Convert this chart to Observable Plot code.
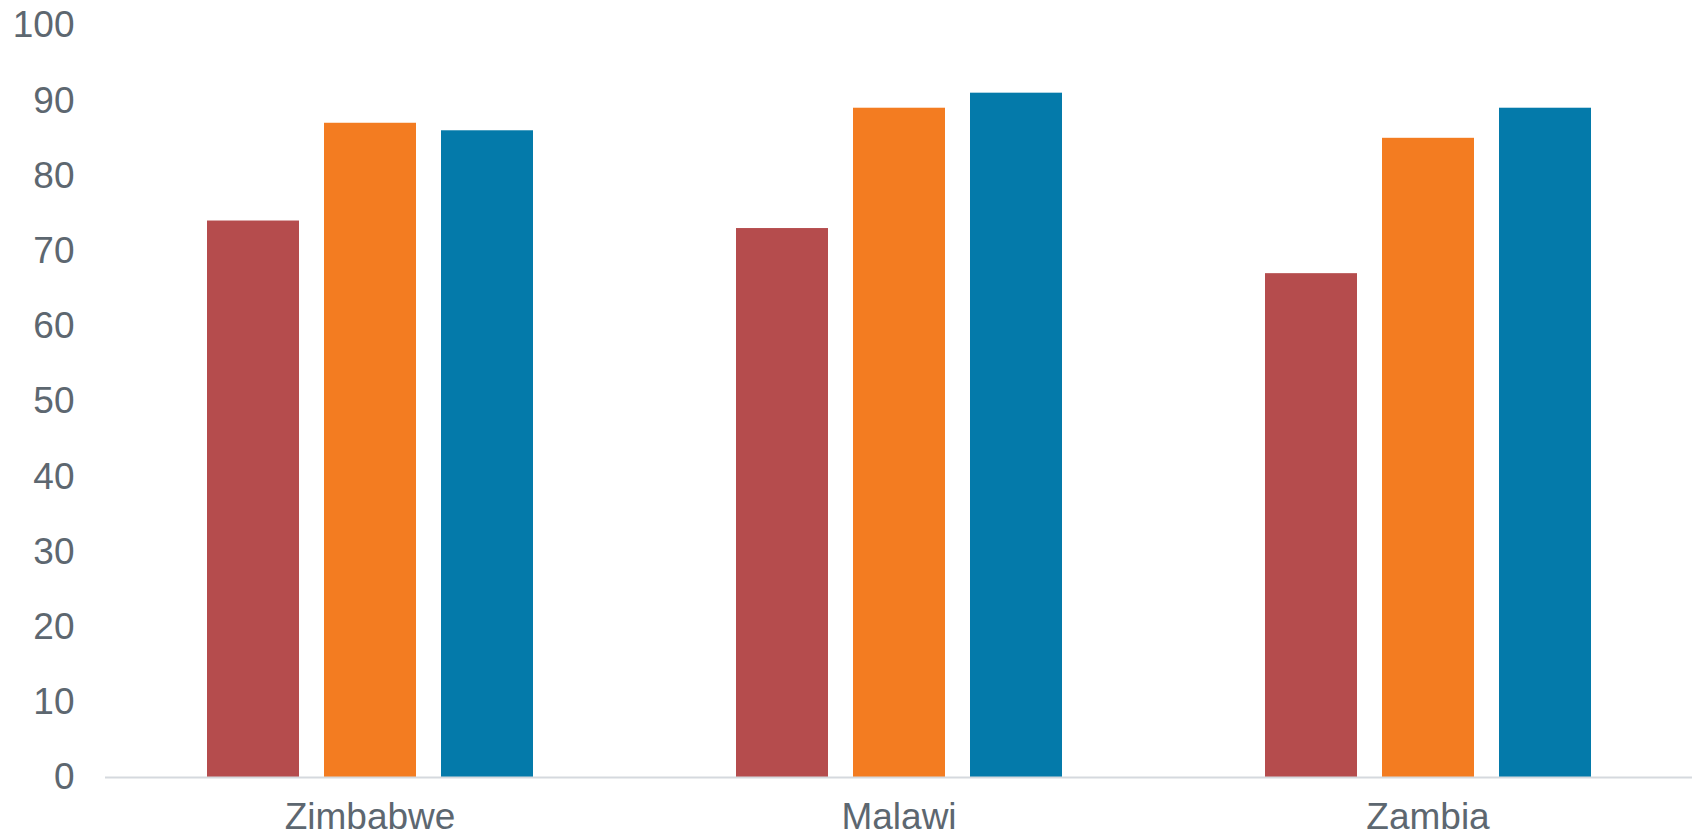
<!DOCTYPE html>
<html>
<head>
<meta charset="utf-8">
<script src="https://cdn.jsdelivr.net/npm/d3@7"></script>
<script src="https://cdn.jsdelivr.net/npm/@observablehq/plot@0.6"></script>
<style>
  html, body { margin: 0; padding: 0; background: #ffffff; }
  #chart svg { display: block; }
</style>
</head>
<body>
<div id="chart"></div>
<script>
// Data
const countries = ["Zimbabwe", "Malawi", "Zambia"];
const seriesNames = ["Series 1", "Series 2", "Series 3"];
const series1 = [74, 73, 67];
const series2 = [87, 89, 85];
const series3 = [86, 91, 89];
const seriesColors = ["#b54c4d", "#f37c21", "#047aaa"];
const yTicks = [0, 10, 20, 30, 40, 50, 60, 70, 80, 90, 100];

const allSeries = [series1, series2, series3];
const rows = [];
countries.forEach((c, i) => {
  seriesNames.forEach((s, j) => {
    rows.push({country: c, series: s, value: allSeries[j][i]});
  });
});

const textColor = "#5d6770";

const chart = Plot.plot({
  width: 1696,
  height: 837,
  marginLeft: 104,
  marginRight: 4,
  marginTop: 25,
  marginBottom: 60,
  style: {
    fontFamily: "'Liberation Sans', Arial, sans-serif",
    fontSize: "37px",
    color: textColor,
    background: "#ffffff",
    overflow: "visible"
  },
  fx: {
    domain: countries,
    padding: 0,
    axis: "bottom",
    label: null,
    tickSize: 0,
    tickPadding: 25
  },
  x: {
    domain: seriesNames,
    axis: null,
    paddingInner: 0.214,
    paddingOuter: 0.85,
    align: 0.5
  },
  y: {
    domain: [0, 100],
    ticks: yTicks,
    tickSize: 0,
    tickPadding: 31,
    label: null
  },
  color: {
    domain: seriesNames,
    range: seriesColors
  },
  marks: [
    Plot.barY(rows, {fx: "country", x: "series", y: "value", fill: "series"}),
    Plot.ruleY([0], {stroke: "#d5d9de", strokeWidth: 2})
  ]
});

document.getElementById("chart").appendChild(chart);
</script>
</body>
</html>
